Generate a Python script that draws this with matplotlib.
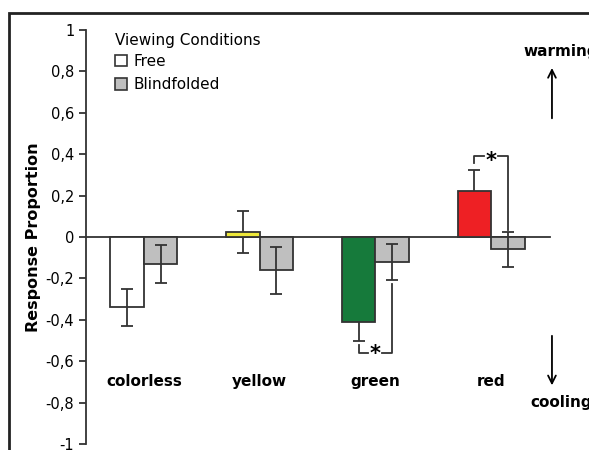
import numpy as np
import matplotlib.pyplot as plt
from matplotlib.patches import Patch, Rectangle
from matplotlib.ticker import FuncFormatter

categories = ["colorless", "yellow", "green", "red"]
free_vals = [-0.34, 0.025, -0.41, 0.22]
free_err = [0.09, 0.10, 0.09, 0.106]
blind_vals = [-0.13, -0.16, -0.12, -0.06]
blind_err = [0.093, 0.114, 0.087, 0.085]
free_colors = ["white", "#eee83a", "#167a3b", "#ee2024"]
blind_color = "#bfbfbf"

plt.rcParams["font.family"] = "DejaVu Sans"
fig = plt.figure(figsize=(5.89, 4.50), dpi=100)
ax = fig.add_axes([86 / 589, 6 / 450, 503 / 589, 414 / 450])

ind = np.arange(len(categories))
bar_width = 0.29
xf = ind - bar_width / 2
xb = ind + bar_width / 2

ax.axhline(0, xmin=0, xmax=(3.51 + 0.5) / 4.346, color="#333333", lw=1.3, zorder=1)

for i in range(len(categories)):
    ec_z = 4 if free_colors[i] == "white" else 1.5
    ax.errorbar(xf[i], free_vals[i], yerr=free_err[i], fmt="none", ecolor="#333333",
                elinewidth=1.3, capsize=4, capthick=1.3, zorder=ec_z)
    ax.errorbar(xb[i], blind_vals[i], yerr=blind_err[i], fmt="none", ecolor="#333333",
                elinewidth=1.3, capsize=4, capthick=1.3, zorder=4)

ax.bar(xf, free_vals, width=bar_width, color=free_colors, edgecolor="#333333", linewidth=1.3, zorder=2)
ax.bar(xb, blind_vals, width=bar_width, color=blind_color, edgecolor="#333333", linewidth=1.3, zorder=2)

# significance bracket: red (above)
lw = 1.3
top = free_vals[3] + free_err[3] + 0.03
lvl = top + 0.035
ax.plot([xf[3], xf[3], 3 - 0.06], [top, lvl, lvl], color="#333333", lw=lw, clip_on=False)
ax.plot([3 + 0.06, xb[3], xb[3]], [lvl, lvl, blind_vals[3] + blind_err[3] + 0.01], color="#333333", lw=lw)
ax.text(3, lvl - 0.022, "*", ha="center", va="center", fontsize=15, fontweight="bold")

# significance bracket: green (below)
bot = free_vals[2] - free_err[2] - 0.02
lvl = bot - 0.04
ax.plot([xf[2], xf[2], 2 - 0.06], [bot, lvl, lvl], color="#333333", lw=lw)
ax.plot([2 + 0.06, xb[2], xb[2]], [lvl, lvl, blind_vals[2] - blind_err[2] - 0.02], color="#333333", lw=lw)
ax.text(2, lvl - 0.005, "*", ha="center", va="center", fontsize=15, fontweight="bold")

for i, c in enumerate(categories):
    ax.text(i, -0.70, c, ha="center", va="center", fontsize=11, fontweight="bold")

# warming / cooling
ax.annotate("", xy=(3.526, 0.83), xytext=(3.526, 0.56),
            arrowprops=dict(arrowstyle="->", color="black", lw=1.3, mutation_scale=14))
ax.text(3.276, 0.894, "warming", ha="left", va="center", fontsize=11, fontweight="bold", clip_on=False)
ax.annotate("", xy=(3.526, -0.73), xytext=(3.526, -0.464),
            arrowprops=dict(arrowstyle="->", color="black", lw=1.3, mutation_scale=14))
ax.text(3.336, -0.80, "cooling", ha="left", va="center", fontsize=11, fontweight="bold", clip_on=False)

ax.set_xlim(-0.5, 3.846)
ax.set_ylim(-1, 1)
ax.set_yticks(np.arange(-1, 1.01, 0.2))
ax.yaxis.set_major_formatter(FuncFormatter(
    lambda v, p: "0" if abs(v) < 1e-9 else ("%g" % round(v, 1)).replace(".", ",")))
ax.tick_params(axis="y", direction="out", length=5, width=1.3, labelsize=10.5, color="#333333")
ax.set_xticks([])
for s in ["top", "right", "bottom"]:
    ax.spines[s].set_visible(False)
ax.spines["left"].set_linewidth(1.3)
ax.spines["left"].set_color("#333333")
ax.set_ylabel("Response Proportion", fontsize=11.5, fontweight="bold")
ax.yaxis.set_label_coords(-0.09, 0.5)

handles = [Patch(facecolor="white", edgecolor="#333333", lw=1.2, label="Free"),
           Patch(facecolor=blind_color, edgecolor="#333333", lw=1.2, label="Blindfolded")]
leg = ax.legend(handles=handles, title="Viewing Conditions", loc="upper left",
                bbox_to_anchor=(0.045, 1.007), frameon=False, fontsize=11, title_fontsize=11,
                handlelength=0.8, handleheight=0.8, handletextpad=0.4, labelspacing=0.55,
                borderaxespad=0, alignment="left")
leg._legend_box.sep = 4

fig.add_artist(Rectangle((9 / 589, -0.1), 1.2, 1 - 13 / 450 + 0.1, transform=fig.transFigure,
                         fill=False, lw=2, edgecolor="#222222"))

fig.savefig("out.png", dpi=100)
